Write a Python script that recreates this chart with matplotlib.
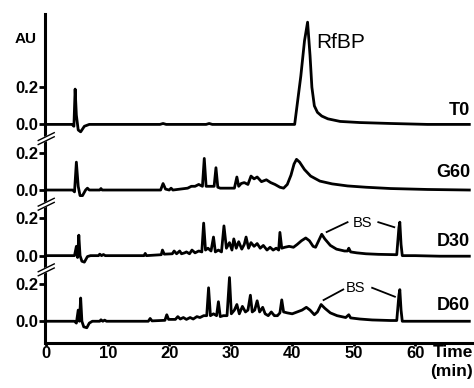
import matplotlib.pyplot as plt

plt.rcParams['font.family'] = ['Liberation Sans', 'DejaVu Sans']

# ---------------- chromatogram traces (time in min, absorbance in AU) ----------------
t0_time = [0, 4.2, 4.5, 4.7, 4.9, 5.2, 5.6, 6.2, 7, 18.5, 19, 19.5, 26, 26.5, 27,
           40.4, 41.4, 42.0, 42.5, 42.9, 43.2, 43.6, 44.1, 44.8, 45.8, 47.8, 51, 56, 62, 68.8]
t0_abs = [0, 0, -0.01, 0.19, 0.05, -0.03, -0.04, -0.01, 0, 0, 0.005, 0, 0, 0.005, 0,
          0, 0.26, 0.45, 0.55, 0.37, 0.2, 0.1, 0.065, 0.045, 0.03, 0.016, 0.01, 0.005, 0, 0]

g60_time = [0, 4.3, 4.6, 4.9, 5.2, 5.5, 5.9, 6.4, 6.7, 7, 8.7, 8.9, 9.1, 18.6, 19.0, 19.4,
            20.0, 20.3, 20.6, 23.0, 23.6, 24.2, 24.8, 25.4, 25.7, 26.0, 27.3, 27.6, 27.9,
            28.3, 30.6, 31.0, 31.3, 31.7, 32.2, 32.8, 33.3, 33.8, 34.3, 35.0, 35.8, 36.5,
            37.2, 38.0, 38.6, 39.2, 39.8, 40.3, 40.7, 41.2, 42.0, 43.0, 44.5, 46.5, 49.0,
            52.0, 56.0, 62.0, 68.8]
g60_abs = [0, 0, -0.01, 0.15, 0.02, -0.03, -0.03, 0, 0.01, 0, 0, 0.008, 0, 0, 0.035, 0.005,
           0, 0.01, 0, 0.01, 0.02, 0.02, 0.03, 0.02, 0.17, 0.02, 0.02, 0.12, 0.015,
           0.01, 0.01, 0.07, 0.02, 0.035, 0.04, 0.03, 0.075, 0.06, 0.07, 0.045, 0.055, 0.04,
           0.03, 0.015, 0.01, 0.03, 0.08, 0.14, 0.165, 0.15, 0.11, 0.075, 0.048, 0.033, 0.022,
           0.015, 0.008, 0.003, 0]

d30_time = [0, 4.6, 4.9, 5.1, 5.3, 5.5, 5.8, 6.2, 6.7, 7.2, 8.5, 8.7, 9.0, 9.3, 9.6,
            15.9, 16.1, 16.3, 18.7, 18.9, 19.2, 20.5, 20.8, 21.2, 21.7, 22.0, 22.5, 22.8,
            23.3, 23.7, 24.2, 24.8, 25.3, 25.6, 25.9, 26.3, 26.8, 27.2, 27.5, 28.0, 28.5,
            28.9, 29.3, 29.8, 30.2, 30.5, 30.9, 31.3, 31.8, 32.2, 32.5, 32.9, 33.3, 33.8,
            34.3, 34.8, 35.3, 35.9, 36.4, 36.9, 37.4, 37.8, 38.0, 38.3, 38.8, 39.5, 40.2,
            40.8, 41.5, 42.2, 42.8, 43.4, 43.8, 44.3, 44.8, 45.3, 46.2, 47.2, 48.5, 49.0,
            49.2, 49.5, 50.5, 52.0, 54.0, 57.0, 57.35, 57.5, 57.7, 57.9, 60, 64, 68.8]
d30_abs = [0, 0, 0.05, -0.01, 0.11, 0.0, -0.03, -0.035, -0.005, 0, 0, 0.008, 0, 0.006, 0,
           0, 0.012, 0, 0.005, 0.03, 0.008, 0.01, 0.025, 0.01, 0.025, 0.01, 0.015, 0.02,
           0.01, 0.03, 0.015, 0.025, 0.02, 0.175, 0.03, 0.04, 0.025, 0.1, 0.02, 0.03, 0.02,
           0.16, 0.04, 0.07, 0.03, 0.09, 0.04, 0.075, 0.035, 0.06, 0.1, 0.04, 0.07, 0.05,
           0.065, 0.04, 0.055, 0.03, 0.045, 0.03, 0.04, 0.03, 0.125, 0.04, 0.045, 0.05, 0.045,
           0.06, 0.08, 0.095, 0.08, 0.05, 0.045, 0.08, 0.115, 0.09, 0.055, 0.035, 0.025, 0.025,
           0.04, 0.02, 0.015, 0.01, 0.007, 0.005, 0.15, 0.18, 0.06, 0.0, 0, -0.003, -0.003]

d60_time = [0, 4.6, 4.9, 5.2, 5.4, 5.6, 5.8, 6.1, 6.6, 7.0, 7.5, 8.7, 8.9, 9.2, 9.5, 9.8,
            16.6, 16.9, 17.2, 19.3, 19.6, 19.9, 21.0, 21.4, 21.8, 22.3, 22.8, 23.4, 23.9,
            24.5, 25.0, 25.6, 26.1, 26.4, 26.7, 27.2, 27.7, 28.0, 28.3, 28.8, 29.4, 29.8,
            30.1, 30.6, 31.0, 31.4, 31.9, 32.4, 32.8, 33.2, 33.5, 33.9, 34.3, 34.7, 35.2,
            35.6, 36.1, 36.6, 37.1, 37.6, 38.0, 38.3, 38.6, 39.2, 40.0, 40.8, 41.6, 42.3,
            42.9, 43.6, 44.1, 44.7, 45.3, 46.2, 47.3, 48.7, 49.2, 49.5, 51.0, 53.0, 56.0,
            57.0, 57.35, 57.5, 57.7, 57.9, 60, 68.8]
d60_abs = [0, 0, -0.01, 0.06, 0.0, 0.125, 0.0, -0.03, -0.035, -0.01, 0, 0, 0.008, 0, 0.006, 0,
           0, 0.015, 0.002, 0.005, 0.035, 0.01, 0.01, 0.025, 0.012, 0.02, 0.01, 0.02, 0.012,
           0.025, 0.02, 0.03, 0.03, 0.18, 0.03, 0.04, 0.03, 0.105, 0.025, 0.03, 0.03, 0.235,
           0.04, 0.06, 0.09, 0.04, 0.08, 0.05, 0.06, 0.14, 0.05, 0.06, 0.11, 0.05, 0.075,
           0.04, 0.03, 0.05, 0.03, 0.03, 0.045, 0.115, 0.05, 0.045, 0.04, 0.05, 0.06, 0.075,
           0.06, 0.035, 0.05, 0.09, 0.07, 0.045, 0.03, 0.02, 0.035, 0.018, 0.012, 0.007, 0.004,
           0.004, 0.14, 0.17, 0.06, 0.0, 0, 0]

names = ['T0', 'G60', 'D30', 'D60']
traces = [(t0_time, t0_abs), (g60_time, g60_abs), (d30_time, d30_abs), (d60_time, d60_abs)]
offsets = [0, -0.353, -0.706, -1.059]   # vertical stacking of the four runs
name_y = [0.053, 0.068, 0.053, 0.06]
xticks = [0, 10, 20, 30, 40, 50, 60]

# BS annotations (D30, D60): label position and the two leader lines
bs_text = [(2, 51.5, 0.155), (3, 50.3, 0.16)]
bs_lines = [(2, [45.6, 49.0], [0.127, 0.18]), (2, [54.0, 56.6], [0.18, 0.153]),
            (3, [45.1, 48.3], [0.114, 0.171]), (3, [53.0, 56.7], [0.18, 0.132])]

fig = plt.figure(figsize=(4.74, 3.88), dpi=100)
ax = fig.add_axes([45 / 474, 45 / 388, 428 / 474, 329 / 388])

for (t, a), off in zip(traces, offsets):
    ax.plot(t, [v + off for v in a], color='black', lw=2.0, solid_joinstyle='round')

for name, off, ny in zip(names, offsets, name_y):
    ax.text(68.9, off + ny, name, ha='right', va='baseline', fontsize=13, fontweight='bold')

ax.text(43.9, 0.41, 'RfBP', ha='left', va='baseline', fontsize=15)

for k, x, y in bs_text:
    ax.text(x, offsets[k] + y, 'BS', ha='center', va='baseline', fontsize=10.5)
for k, xs, ys in bs_lines:
    ax.plot(xs, [y + offsets[k] for y in ys], color='black', lw=1.3)

# axis break marks on the y axis
for k in range(3):
    yb = (offsets[k] + offsets[k + 1] + 0.2) / 2
    dx, dy, g = 1.3, 0.021, 0.011
    ax.fill([-dx, dx, dx, -dx], [yb - dy - g, yb + dy - g, yb + dy + g, yb - dy + g],
            color='white', zorder=5, clip_on=False)
    for s in (-g, g):
        ax.plot([-dx, dx], [yb - dy + s, yb + dy + s], color='black', lw=1.0,
                zorder=6, clip_on=False)

ax.set_xlim(-0.2, 69.4)
ax.set_ylim(-1.176, 0.594)

yt, yl = [], []
for off in offsets:
    yt += [off, off + 0.2]
    yl += ['0.0', '0.2']
ax.set_yticks(yt)
ax.set_yticklabels(yl, fontsize=12, fontweight='bold')
ax.set_xticks(xticks)
ax.set_xticklabels([str(x) for x in xticks], fontsize=12, fontweight='bold')
ax.tick_params(axis='y', length=4, width=2, pad=1)
ax.tick_params(axis='x', length=2, width=2, pad=0)

for side in ['top', 'right']:
    ax.spines[side].set_visible(False)
for side in ['left', 'bottom']:
    ax.spines[side].set_linewidth(2.2)

fig.text(26 / 474, 1 - 43 / 388, 'AU', ha='center', va='baseline', fontsize=11, fontweight='bold')
fig.text(473 / 474, 1 - 357 / 388, 'Time', ha='right', va='baseline', fontsize=12.5, fontweight='bold')
fig.text(473 / 474, 1 - 376 / 388, '(min)', ha='right', va='baseline', fontsize=12.5, fontweight='bold')

plt.savefig('out.png', dpi=100, facecolor='white')
